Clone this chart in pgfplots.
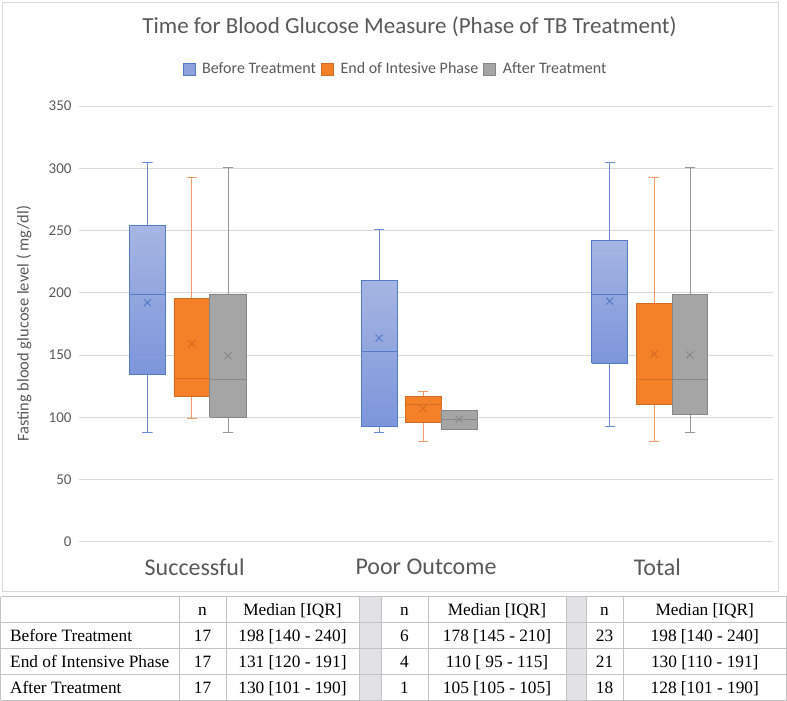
\documentclass[border=0pt]{standalone}
\usepackage{fontspec}
\setmainfont{Liberation Serif}
\newfontfamily\calibri{Carlito}
\usepackage{pgfplots}
\pgfplotsset{compat=1.18}
\definecolor{bluebox}{RGB}{84,122,200}
\definecolor{bluewhisk}{RGB}{110,140,212}
\definecolor{bluetop}{RGB}{166,181,226}
\definecolor{bluebot}{RGB}{124,150,219}
\definecolor{bluemid}{RGB}{142,163,222}
\definecolor{orangefill}{RGB}{244,128,40}
\definecolor{orangeline}{RGB}{212,108,38}
\definecolor{orangewhisk}{RGB}{240,155,100}
\definecolor{grayfill}{RGB}{165,165,165}
\definecolor{grayline}{RGB}{135,135,135}
\definecolor{graywhisk}{RGB}{150,150,150}
\definecolor{txtgray}{RGB}{89,89,89}
\definecolor{gridgray}{RGB}{217,217,217}
\definecolor{tblline}{RGB}{195,195,195}
\definecolor{tblsep}{RGB}{226,226,228}
\pgfplotsset{
  bw/.style={forget plot, mark=none, draw=bluewhisk, line width=0.8pt},
  ow/.style={forget plot, mark=none, draw=orangewhisk, line width=0.8pt},
  gw/.style={forget plot, mark=none, draw=graywhisk, line width=0.8pt},
  bb/.style={forget plot, mark=none, draw=bluebox, top color=bluetop, bottom color=bluebot, line width=0.8pt},
  ob/.style={forget plot, mark=none, draw=orangeline, fill=orangefill, line width=0.8pt},
  gb/.style={forget plot, mark=none, draw=grayline, fill=grayfill, line width=0.8pt},
  bm/.style={forget plot, mark=none, draw=bluebox, line width=0.9pt},
  om/.style={forget plot, mark=none, draw=orangeline, line width=0.9pt},
  gm/.style={forget plot, mark=none, draw=grayline, line width=0.9pt},
}
\begin{document}
\begin{tikzpicture}
\useasboundingbox (0,0) rectangle (787pt,-701pt);
% chart frame
\draw[gridgray, line width=0.8pt] (2.7pt,-2.5pt) rectangle (778pt,-591.7pt);
% title
\node[font=\calibri\fontsize{23}{27}\selectfont, text=txtgray] at (409.5pt,-27pt) {Time for Blood Glucose Measure (Phase of TB Treatment)};
\begin{axis}[
  at={(79pt,-541.7pt)}, anchor=south west,
  scale only axis, width=694pt, height=435.7pt,
  xmin=0.5, xmax=3.5, ymin=0, ymax=350,
  xtick={1,2,3}, xticklabels={Successful,Poor Outcome,Total},
  ytick={0,50,100,150,200,250,300,350},
  axis line style={draw=none},
  major tick length=0pt,
  ymajorgrids, grid style={gridgray, line width=0.8pt},
  xticklabel style={font=\calibri\fontsize{24}{28}\selectfont, text=txtgray, yshift=-14pt},
  yticklabel style={font=\calibri\fontsize{15}{18}\selectfont, text=txtgray, xshift=-4pt},
  /pgf/number format/assume math mode=true,
  ylabel={Fasting blood glucose level ( mg/dl)},
  ylabel style={font=\calibri\fontsize{16.5}{19}\selectfont, text=txtgray, at={(axis description cs:-0.0793,0.5)}, rotate=0, anchor=center},
  legend style={at={(axis description cs:0.456,1.085)}, anchor=center, draw=none, fill=none,
    legend columns=3, font=\calibri\fontsize{16}{19}\selectfont, text=txtgray,
    /tikz/every odd column/.append style={column sep=5pt},
    /tikz/every even column/.append style={column sep=3pt}},
  clip=false,
]
\addlegendimage{legend image code/.code={\draw[fill=bluemid, draw=bluebox, line width=0.6pt] (0pt,-6pt) rectangle (12pt,6pt);}}
\addlegendentry{Before Treatment}
\addlegendimage{legend image code/.code={\draw[fill=orangefill, draw=orangeline, line width=0.6pt] (0pt,-6pt) rectangle (12pt,6pt);}}
\addlegendentry{End of Intesive Phase}
\addlegendimage{legend image code/.code={\draw[fill=grayfill, draw=grayline, line width=0.6pt] (0pt,-6pt) rectangle (12pt,6pt);}}
\addlegendentry{After Treatment}
% ---- whiskers (cap then stem) ----
% Successful
\addplot[bw] coordinates {(0.774,305) (0.818,305) (0.796,305) (0.796,254)};
\addplot[bw] coordinates {(0.774,87.6) (0.818,87.6) (0.796,87.6) (0.796,134)};
\addplot[ow] coordinates {(0.966,293) (1.010,293) (0.988,293) (0.988,195.5)};
\addplot[ow] coordinates {(0.966,99) (1.010,99) (0.988,99) (0.988,116.5)};
\addplot[gw] coordinates {(1.122,300.7) (1.166,300.7) (1.144,300.7) (1.144,199)};
\addplot[gw] coordinates {(1.122,87.6) (1.166,87.6) (1.144,87.6) (1.144,100)};
% Poor Outcome
\addplot[bw] coordinates {(1.775,251) (1.819,251) (1.797,251) (1.797,210)};
\addplot[bw] coordinates {(1.775,87.6) (1.819,87.6) (1.797,87.6) (1.797,93)};
\addplot[ow] coordinates {(1.965,120.5) (2.009,120.5) (1.987,120.5) (1.987,117)};
\addplot[ow] coordinates {(1.965,80.3) (2.009,80.3) (1.987,80.3) (1.987,95.6)};
% Total
\addplot[bw] coordinates {(2.772,305) (2.816,305) (2.794,305) (2.794,242.3)};
\addplot[bw] coordinates {(2.772,93) (2.816,93) (2.794,93) (2.794,143.3)};
\addplot[ow] coordinates {(2.964,293) (3.008,293) (2.986,293) (2.986,191.5)};
\addplot[ow] coordinates {(2.964,80.3) (3.008,80.3) (2.986,80.3) (2.986,110.3)};
\addplot[gw] coordinates {(3.119,300.7) (3.163,300.7) (3.141,300.7) (3.141,198.7)};
\addplot[gw] coordinates {(3.119,87.6) (3.163,87.6) (3.141,87.6) (3.141,102.3)};
% ---- boxes (lower quartile to upper quartile) ----
\addplot[bb] coordinates {(0.717,134) (0.875,134) (0.875,254) (0.717,254) (0.717,134)};
\addplot[ob] coordinates {(0.9105,116.5) (1.0655,116.5) (1.0655,195.5) (0.9105,195.5) (0.9105,116.5)};
\addplot[gb] coordinates {(1.0655,100) (1.2225,100) (1.2225,199) (1.0655,199) (1.0655,100)};
\addplot[bb] coordinates {(1.7195,93) (1.8745,93) (1.8745,210) (1.7195,210) (1.7195,93)};
\addplot[ob] coordinates {(1.9095,95.6) (2.0645,95.6) (2.0645,117) (1.9095,117) (1.9095,95.6)};
\addplot[gb] coordinates {(2.0645,90.3) (2.2215,90.3) (2.2215,105.2) (2.0645,105.2) (2.0645,90.3)};
\addplot[bb] coordinates {(2.7165,143.3) (2.8715,143.3) (2.8715,242.3) (2.7165,242.3) (2.7165,143.3)};
\addplot[ob] coordinates {(2.9085,110.3) (3.0635,110.3) (3.0635,191.5) (2.9085,191.5) (2.9085,110.3)};
\addplot[gb] coordinates {(3.0635,102.3) (3.2185,102.3) (3.2185,198.7) (3.0635,198.7) (3.0635,102.3)};
% ---- medians ----
\addplot[bm] coordinates {(0.717,199) (0.875,199)};
\addplot[om] coordinates {(0.9105,131) (1.0655,131)};
\addplot[gm] coordinates {(1.0655,130.4) (1.2225,130.4)};
\addplot[bm] coordinates {(1.7195,153) (1.8745,153)};
\addplot[om] coordinates {(1.9095,110.6) (2.0645,110.6)};
\addplot[gm] coordinates {(2.0645,98.3) (2.2215,98.3)};
\addplot[bm] coordinates {(2.7165,199) (2.8715,199)};
\addplot[om] coordinates {(2.9085,130.4) (3.0635,130.4)};
\addplot[gm] coordinates {(3.0635,130.4) (3.2185,130.4)};
% ---- means ----
\addplot[forget plot, only marks, mark=x, mark size=5pt, line width=1pt, color=bluebox] coordinates {(0.796,192) (1.797,163.6) (2.794,193.3)};
\addplot[forget plot, only marks, mark=x, mark size=5pt, line width=1pt, color=orangeline] coordinates {(0.988,159) (1.987,107) (2.986,150.8)};
\addplot[forget plot, only marks, mark=x, mark size=5pt, line width=1pt, color=grayline] coordinates {(1.144,149.4) (2.143,98.3) (3.141,150)};
\end{axis}
% table
\fill[tblsep] (359pt,-596.7pt) rectangle (381pt,-700pt);
\fill[tblsep] (566pt,-596.7pt) rectangle (586pt,-700pt);
\foreach \y in {596.7,622.7,648.3,674.3,700.2} {\draw[tblline, line width=0.8pt] (0.5pt,-\y pt) -- (786.5pt,-\y pt);}
\foreach \x in {0.5,179,226,359,381,428,566,586,623,786.5} {\draw[tblline, line width=0.8pt] (\x pt,-596.7pt) -- (\x pt,-700.2pt);}
\begin{scope}[every node/.style={font=\fontsize{17.3}{20}\selectfont, inner sep=0pt}]
\foreach \x in {202.5,404.5,604.5} {\node[anchor=base] at (\x pt,-615.5pt) {n};}
\foreach \x in {292.5,497,704.75} {\node[anchor=base] at (\x pt,-615.5pt) {Median [IQR]};}
\node[anchor=base west] at (10pt,-641.5pt) {Before Treatment};
\node[anchor=base west] at (10pt,-667.5pt) {End of Intensive Phase};
\node[anchor=base west] at (10pt,-693.3pt) {After Treatment};
\node[anchor=base] at (202.5pt,-641.5pt) {17};
\node[anchor=base] at (292.5pt,-641.5pt) {198 [140 - 240]};
\node[anchor=base] at (404.5pt,-641.5pt) {6};
\node[anchor=base] at (497pt,-641.5pt) {178 [145 - 210]};
\node[anchor=base] at (604.5pt,-641.5pt) {23};
\node[anchor=base] at (704.75pt,-641.5pt) {198 [140 - 240]};
\node[anchor=base] at (202.5pt,-667.5pt) {17};
\node[anchor=base] at (292.5pt,-667.5pt) {131 [120 - 191]};
\node[anchor=base] at (404.5pt,-667.5pt) {4};
\node[anchor=base] at (497pt,-667.5pt) {110 [\ 95 - 115]};
\node[anchor=base] at (604.5pt,-667.5pt) {21};
\node[anchor=base] at (704.75pt,-667.5pt) {130 [110 - 191]};
\node[anchor=base] at (202.5pt,-693.3pt) {17};
\node[anchor=base] at (292.5pt,-693.3pt) {130 [101 - 190]};
\node[anchor=base] at (404.5pt,-693.3pt) {1};
\node[anchor=base] at (497pt,-693.3pt) {105 [105 - 105]};
\node[anchor=base] at (604.5pt,-693.3pt) {18};
\node[anchor=base] at (704.75pt,-693.3pt) {128 [101 - 190]};
\end{scope}
\end{tikzpicture}
\end{document}
